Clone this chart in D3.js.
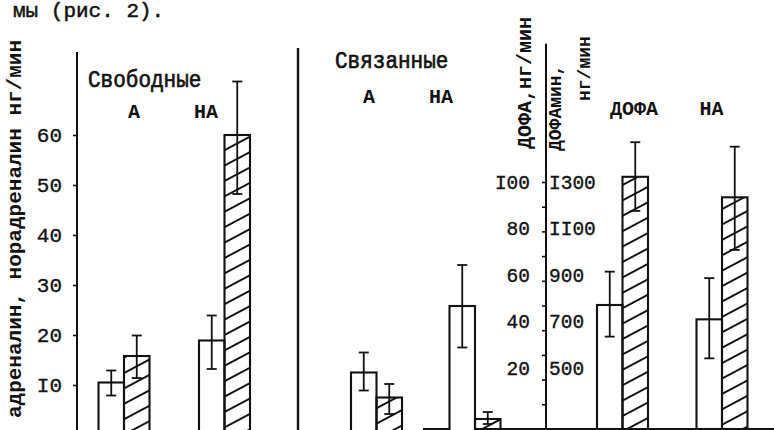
<!DOCTYPE html>
<html>
<head>
<meta charset="utf-8">
<script src="https://cdn.jsdelivr.net/npm/d3@7"></script>
<style>
  html, body { margin: 0; padding: 0; background: #fff; }
  svg { display: block; }
</style>
</head>
<body>
<svg id="chart" width="774" height="430"></svg>
<script>
// Свободные катехоламины, нг/мин (светлые столбики – исходно, штриховка – после)
const freeGroups = ["А", "НА"];
const freeBase = [10.5, 18.9];
const freeBaseErr = [[7.9, 12.9], [13.2, 23.9]];
const freeAfter = [15.8, 60];
const freeAfterErr = [[11.4, 19.9], [48.2, 70.7]];

// Связанные катехоламины, нг/мин
const boundGroups = ["А", "НА"];
const boundBase = [12.5, 25.8];
const boundBaseErr = [[8.9, 16.5], [17.5, 34]];
const boundAfter = [7.5, 3.2];
const boundAfterErr = [[4.2, 10.2], [2.2, 4.6]];

// ДОФА и ДОФАмин (в единицах шкалы ДОФА, нг/мин)
const dopaGroups = ["ДОФА", "НА"];
const dopaBase = [50.2, 44.4];
const dopaBaseErr = [[37.4, 63.7], [28.6, 61.1]];
const dopaAfter = [102.1, 93.8];
const dopaAfterErr = [[88.3, 116.1], [72.5, 114.3]];

// Подписи шкал
const leftTicks = [10, 20, 30, 40, 50, 60];
const dopaMinorTicks = [10, 20, 30, 40, 50, 60, 70, 80, 90, 100];
const dopaTicks = [20, 40, 60, 80, 100];
const dopamineTicks = [500, 700, 900, 1100, 1300];

const INK = "#121212";
const MONO = "'Liberation Mono', 'DejaVu Sans Mono', monospace";
// typewriter prints the digit one as a capital I
const typed = d => String(d).replace(/1/g, "I");
// heavier typewriter ink
const inked = (sel, w) => sel.attr("stroke", INK).attr("stroke-width", w).attr("paint-order", "stroke");

const svg = d3.select("#chart");
const defs = svg.append("defs");
defs.append("pattern")
  .attr("id", "hatch")
  .attr("patternUnits", "userSpaceOnUse")
  .attr("width", 8)
  .attr("height", 13.6)
  .attr("patternTransform", "rotate(-28)")
  .append("line")
  .attr("x1", -1).attr("x2", 9)
  .attr("y1", 6.8).attr("y2", 6.8)
  .attr("stroke", INK).attr("stroke-width", 1.9);

// ---- scales ----
const yLeft = d3.scaleLinear().domain([0, 76]).range([435, 55]);
const yDopa = d3.scaleLinear().domain([0, 100]).range([429, 182]);
// hand-lettered labels on the ДОФА axis sit a little above their ticks
const yDopaLabel = d3.scaleLinear().domain([20, 100]).range([368, 182]);
const yDopamineLabel = d3.scaleLinear().domain([500, 1300]).range([368, 182]);

const barW = 25.5;

// header line from the running text
inked(svg.append("text")
  .attr("x", 13).attr("y", 17)
  .attr("font-family", MONO).attr("font-size", 21)
  .attr("fill", INK)
  .text("мы (рис. 2)."), 0.5);

// ---- left axis ----
const gLeft = svg.append("g").attr("transform", "translate(77,0)");
gLeft.call(d3.axisLeft(yLeft).tickValues(leftTicks).tickFormat(typed)
  .tickSize(4).tickSizeOuter(0).tickPadding(11));
gLeft.select(".domain").remove();
gLeft.selectAll(".tick line").attr("stroke", INK).attr("stroke-width", 1.6);
inked(gLeft.selectAll(".tick text")
  .attr("font-family", MONO).attr("font-size", 21).attr("fill", INK), 0.35);
gLeft.append("line")
  .attr("x1", 0).attr("x2", 0)
  .attr("y1", yLeft(76.6)).attr("y2", yLeft(0))
  .attr("stroke", INK).attr("stroke-width", 2);

svg.append("text")
  .attr("transform", "translate(21,40) rotate(-90)")
  .attr("text-anchor", "end")
  .attr("font-family", MONO).attr("font-size", 21).attr("font-weight", "bold")
  .attr("fill", INK)
  .text("адреналин, норадреналин нг/мин");

// separator between free and bound panels
svg.append("line")
  .attr("x1", 298).attr("x2", 298)
  .attr("y1", 48).attr("y2", 430)
  .attr("stroke", INK).attr("stroke-width", 2.4);

// ---- right (ДОФА) axis ----
const gDopa = svg.append("g").attr("transform", "translate(546,0)");
gDopa.call(d3.axisLeft(yDopa).tickValues(dopaMinorTicks).tickFormat("")
  .tickSize(4).tickSizeOuter(0));
gDopa.select(".domain").remove();
gDopa.selectAll(".tick line").attr("stroke", INK).attr("stroke-width", 1.6);
gDopa.append("line")
  .attr("x1", 0).attr("x2", 0)
  .attr("y1", yDopa(156)).attr("y2", yDopa(0))
  .attr("stroke", INK).attr("stroke-width", 2);

const gDopaLab = svg.append("g").attr("transform", "translate(546,0)");
gDopaLab.call(d3.axisLeft(yDopaLabel).tickValues(dopaTicks).tickFormat(typed)
  .tickSize(0).tickPadding(16));
gDopaLab.select(".domain").remove();
inked(gDopaLab.selectAll(".tick text")
  .attr("font-family", MONO).attr("font-size", 19.5).attr("fill", INK), 0.35);

const gDopamineLab = svg.append("g").attr("transform", "translate(546,0)");
gDopamineLab.call(d3.axisRight(yDopamineLabel).tickValues(dopamineTicks).tickFormat(typed)
  .tickSize(0).tickPadding(3));
gDopamineLab.select(".domain").remove();
inked(gDopamineLab.selectAll(".tick text")
  .attr("font-family", MONO).attr("font-size", 19.5).attr("fill", INK), 0.35);

// rotated unit captions of the ДОФА panel
svg.append("text")
  .attr("transform", "translate(531,149) rotate(-90)")
  .attr("font-family", MONO).attr("font-size", 20).attr("font-weight", "bold")
  .attr("fill", INK)
  .text("ДОФА,нг/мин");
svg.append("text")
  .attr("transform", "translate(561,151) rotate(-90)")
  .attr("font-family", MONO).attr("font-size", 18).attr("font-weight", "bold")
  .attr("fill", INK)
  .text("ДОФАмин,");
svg.append("text")
  .attr("transform", "translate(590,101) rotate(-90)")
  .attr("font-family", MONO).attr("font-size", 18).attr("font-weight", "bold")
  .attr("fill", INK)
  .text("нг/мин");

// baseline under the bound and ДОФА panels
svg.append("line")
  .attr("x1", 423).attr("x2", 774)
  .attr("y1", yDopa(0)).attr("y2", yDopa(0))
  .attr("stroke", INK).attr("stroke-width", 2);

// ---- panels ----
const panels = [
  {
    title: "Свободные", titleX: 88, titleY: 87,
    groups: freeGroups, labelX: [134, 206], labelY: 118,
    base: freeBase, baseErr: freeBaseErr, after: freeAfter, afterErr: freeAfterErr,
    y: yLeft,
    x: d3.scalePoint().domain(freeGroups).range([124, 224.5])
  },
  {
    title: "Связанные", titleX: 335, titleY: 68,
    groups: boundGroups, labelX: [369, 441], labelY: 103,
    base: boundBase, baseErr: boundBaseErr, after: boundAfter, afterErr: boundAfterErr,
    y: yLeft,
    x: d3.scalePoint().domain(boundGroups).range([376.5, 475])
  },
  {
    title: null,
    groups: dopaGroups, labelX: [634, 711.5], labelY: 115,
    base: dopaBase, baseErr: dopaBaseErr, after: dopaAfter, afterErr: dopaAfterErr,
    y: yDopa,
    x: d3.scalePoint().domain(dopaGroups).range([622.5, 722])
  }
];

panels.forEach(p => {
  const g = svg.append("g");
  if (p.title) {
    inked(g.append("text")
      .attr("transform", `translate(${p.titleX},${p.titleY}) scale(1,1.12)`)
      .attr("font-family", MONO).attr("font-size", 21)
      .attr("fill", INK)
      .text(p.title), 0.6);
  }
  g.selectAll("text.grp").data(p.groups).join("text")
    .attr("class", "grp")
    .attr("x", (d, i) => p.labelX[i]).attr("y", p.labelY)
    .attr("text-anchor", "middle")
    .attr("font-family", MONO).attr("font-size", 20).attr("font-weight", "bold")
    .attr("fill", INK)
    .text(d => d);

  const rows = p.groups.map((grp, i) => ([
    { grp, v: p.base[i], err: p.baseErr[i], cx: p.x(grp) - barW / 2, fill: "#fff" },
    { grp, v: p.after[i], err: p.afterErr[i], cx: p.x(grp) + barW / 2, fill: "url(#hatch)" }
  ])).flat();

  g.selectAll("rect.bar").data(rows).join("rect")
    .attr("class", "bar")
    .attr("x", d => d.cx - barW / 2)
    .attr("width", barW)
    .attr("y", d => p.y(d.v))
    .attr("height", d => p.y(0) - p.y(d.v))
    .attr("fill", d => d.fill)
    .attr("stroke", INK).attr("stroke-width", 2.1);

  const eb = g.selectAll("g.err").data(rows).join("g").attr("class", "err")
    .attr("stroke", INK).attr("stroke-width", 1.8);
  eb.append("line")
    .attr("x1", d => d.cx).attr("x2", d => d.cx)
    .attr("y1", d => p.y(d.err[0])).attr("y2", d => p.y(d.err[1]));
  eb.append("line")
    .attr("x1", d => d.cx - 5).attr("x2", d => d.cx + 5)
    .attr("y1", d => p.y(d.err[0])).attr("y2", d => p.y(d.err[0]));
  eb.append("line")
    .attr("x1", d => d.cx - 5).attr("x2", d => d.cx + 5)
    .attr("y1", d => p.y(d.err[1])).attr("y2", d => p.y(d.err[1]));
});
</script>
</body>
</html>
